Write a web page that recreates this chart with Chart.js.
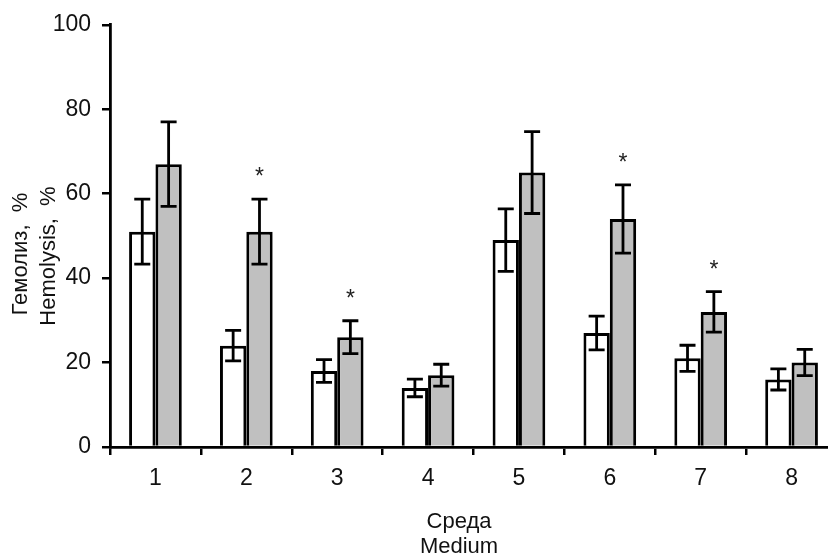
<!DOCTYPE html>
<html>
<head>
<meta charset="utf-8">
<script src="https://cdn.jsdelivr.net/npm/chart.js@4"></script>
<style>
  html, body { margin: 0; padding: 0; background: #fff; overflow: hidden; }
  #wrap { width: 828px; height: 556px; overflow: hidden; }
</style>
</head>
<body>
<div id="wrap"><canvas id="myChart" width="840" height="556"></canvas></div>
<script>
const media = ['1', '2', '3', '4', '5', '6', '7', '8'];
const control = [51, 24, 18, 14, 49, 27, 21, 16];
const controlErr = [7.7, 3.6, 2.7, 2.1, 7.4, 4.0, 3.1, 2.5];
const treated = [67, 51, 26, 17, 65, 54, 32, 20];
const treatedErr = [10, 7.7, 3.9, 2.6, 9.7, 8.1, 4.8, 3.1];
const significant = [false, true, true, false, false, true, true, false];
const yTicks = [0, 20, 40, 60, 80, 100];

const FONT = 'Liberation Sans, Arial, sans-serif';

// error bars + asterisks
const errorBars = {
    id: 'errorBars',
    afterDatasetsDraw(chart) {
        const ctx = chart.ctx;
        const y = chart.scales.y;
        ctx.save();
        ctx.strokeStyle = '#000';
        ctx.lineWidth = 2.8;
        chart.data.datasets.forEach((ds, d) => {
            const meta = chart.getDatasetMeta(d);
            meta.data.forEach((bar, i) => {
                const v = ds.data[i], e = ds.errors[i];
                const top = y.getPixelForValue(v + e);
                const bot = y.getPixelForValue(v - e);
                const x = bar.x, cap = 8;
                ctx.beginPath();
                ctx.moveTo(x, top); ctx.lineTo(x, bot);
                ctx.moveTo(x - cap, top); ctx.lineTo(x + cap, top);
                ctx.moveTo(x - cap, bot); ctx.lineTo(x + cap, bot);
                ctx.stroke();
                if (ds.stars && ds.stars[i]) {
                    ctx.fillStyle = '#222';
                    ctx.font = '23px ' + FONT;
                    ctx.textAlign = 'center';
                    ctx.textBaseline = 'alphabetic';
                    ctx.fillText('*', x, top - 15);
                }
            });
        });
        ctx.restore();
    }
};

// axis titles
const axisTitles = {
    id: 'axisTitles',
    afterDraw(chart) {
        const ctx = chart.ctx;
        ctx.save();
        ctx.fillStyle = '#111';
        ctx.font = '22px ' + FONT;
        ctx.textAlign = 'center';
        ctx.textBaseline = 'alphabetic';
        ctx.fillText('Среда', 459, 528);
        ctx.fillText('Medium', 459, 553);
        ctx.translate(27, 254);
        ctx.rotate(-Math.PI / 2);
        ctx.fillText('Гемолиз,  %', 0, 0);
        ctx.restore();
        ctx.save();
        ctx.fillStyle = '#111';
        ctx.font = '22px ' + FONT;
        ctx.textAlign = 'center';
        ctx.translate(55, 256);
        ctx.rotate(-Math.PI / 2);
        ctx.fillText('Hemolysis,  %', 0, 0);
        ctx.restore();
    }
};

const data = {
    labels: media,
    datasets: [{
        label: 'control',
        data: control,
        errors: controlErr,
        backgroundColor: '#ffffff',
        borderColor: '#000',
        borderWidth: 3,
        borderSkipped: 'start'
    }, {
        label: 'treated',
        data: treated,
        errors: treatedErr,
        stars: significant,
        backgroundColor: '#c0c0c0',
        borderColor: '#000',
        borderWidth: 3,
        borderSkipped: 'start'
    }]
};

const options = {
    responsive: false,
    animation: false,
    datasets: { bar: { categoryPercentage: 0.58, barPercentage: 1 } },
    layout: { padding: { left: 0, top: 24, right: 3, bottom: 0 } },
    plugins: { legend: { display: false }, tooltip: { enabled: false } },
    scales: {
        x: {
            afterFit: s => { s.height = 109; },
            grid: { drawOnChartArea: false, drawTicks: true, tickLength: 8, color: '#000', lineWidth: 2.5, offset: true },
            border: { display: true, color: '#000', width: 2.8 },
            ticks: { color: '#111', font: { family: FONT, size: 23 }, padding: 10, maxRotation: 0 }
        },
        y: {
            min: 0,
            max: 100,
            afterFit: s => { s.width = 110; },
            afterBuildTicks: s => { s.ticks = yTicks.map(v => ({ value: v })); },
            grid: { drawOnChartArea: false, drawTicks: true, tickLength: 8, color: '#000', lineWidth: 2.5 },
            border: { display: true, color: '#000', width: 2.8 },
            ticks: { color: '#111', font: { family: FONT, size: 23 }, padding: 11 }
        }
    }
};

const ctx = document.getElementById('myChart').getContext('2d');
const myChart = new Chart(ctx, {
    type: 'bar',
    data: data,
    options: options,
    plugins: [errorBars, axisTitles]
});
</script>
</body>
</html>
